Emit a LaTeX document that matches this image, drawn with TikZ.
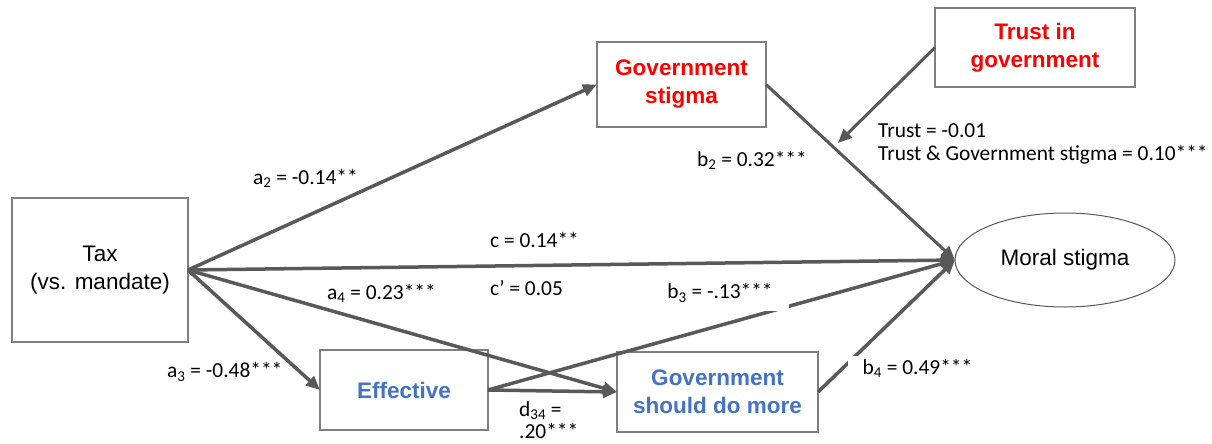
\documentclass[tikz,border=0pt]{standalone}
\usepackage{fontspec}
\setmainfont{Liberation Sans}
\newfontfamily\labfont{Carlito}
\usetikzlibrary{arrows.meta,shapes.geometric}
\definecolor{ln}{HTML}{595959}
\definecolor{bx}{HTML}{7F7F7F}
\definecolor{rd}{HTML}{FF0000}
\definecolor{bl}{HTML}{4472C4}
\begin{document}
\begin{tikzpicture}[x=1pt,y=-1pt,
  box/.style={draw=bx,line width=1.5pt,fill=white,outer sep=0pt,inner sep=0pt,align=center,font=\fontsize{22.5}{28}\selectfont},
  conn/.style={draw=ln,line width=3.5pt,-{Triangle[length=14pt,width=12pt]}},
  lab/.style={font=\labfont\fontsize{21.4}{22}\selectfont,inner sep=0pt,anchor=west},
]
\useasboundingbox (0,0) rectangle (1212,444);
\fill[white] (0,0) rectangle (1212,444);
% nodes
\node[box,minimum width=176pt,minimum height=144pt] (tax) at (100,270) {Tax\\(vs. mandate)};
\node[box,minimum width=169pt,minimum height=85pt,text=rd,font=\bfseries\fontsize{22.5}{28}\selectfont] (gs) at (681.5,84.5) {Government\\stigma};
\node[box,minimum width=200pt,minimum height=79pt,text=rd,font=\bfseries\fontsize{22.5}{28}\selectfont] (tig) at (1035,47.5) {Trust in\\government};
\node[box,minimum width=168pt,minimum height=80pt,text=bl,font=\bfseries\fontsize{22.5}{28}\selectfont] (eff) at (404,390) {Effective};
\node[box,minimum width=201pt,minimum height=80pt,text=bl,font=\bfseries\fontsize{22.5}{28}\selectfont] (gsdm) at (717.5,392) {Government\\should do more};
\node[ellipse,draw=ln,line width=1pt,fill=white,outer sep=0pt,inner sep=0pt,minimum width=220pt,minimum height=94pt,font=\fontsize{22.5}{28}\selectfont] (ms) at (1065,260) {Moral stigma};
\coordinate (mod) at (838,143);
% connectors
\draw[conn] (tax.east) -- (gs.west);
\draw[conn] (tax.east) -- (ms.west);
\draw[conn] (tax.east) -- (gsdm.west);
\draw[conn] (tax.east) -- (eff.west);
\draw[conn] (eff.east) -- (gsdm.west);
\draw[conn] (eff.east) -- (ms.west);
\draw[conn] (gsdm.east) -- (ms.west);
\draw[conn,line width=3pt] (gs.east) -- (ms.west);
\draw[conn,line width=3pt] (tig.west) -- (mod);
% labels
\node[lab] (la2) at (253,178) {a\textsubscript{2} = -0.14**};
\node[lab] (lc) at (490,240) {c = 0.14**};
\node[lab] (la4) at (327,293) {a\textsubscript{4} = 0.23***};
\node[lab] (lcp) at (490,288) {c’ = 0.05};
\node[lab,anchor=center,fill=white,inner xsep=16pt,minimum height=36pt] (lb3) at (720,293) {b\textsubscript{3} = -.13***};
\node[lab] (la3) at (167,372) {a\textsubscript{3} = -0.48***};
\node[lab,align=left,anchor=north west] (ld) at (519,401) {d\textsubscript{34} =\\.20***};
\node[lab,anchor=center,fill=white,inner xsep=15pt,minimum height=24pt] (lb4) at (917.5,368) {b\textsubscript{4} = 0.49***};
\node[lab] (lb2) at (697,160) {b\textsubscript{2} = 0.32***};
\node[lab] (lt) at (878,131) {Trust = -0.01};
\node[lab] (ltg) at (878,155) {Trust \& Government stigma = 0.10***};
\end{tikzpicture}
\end{document}
